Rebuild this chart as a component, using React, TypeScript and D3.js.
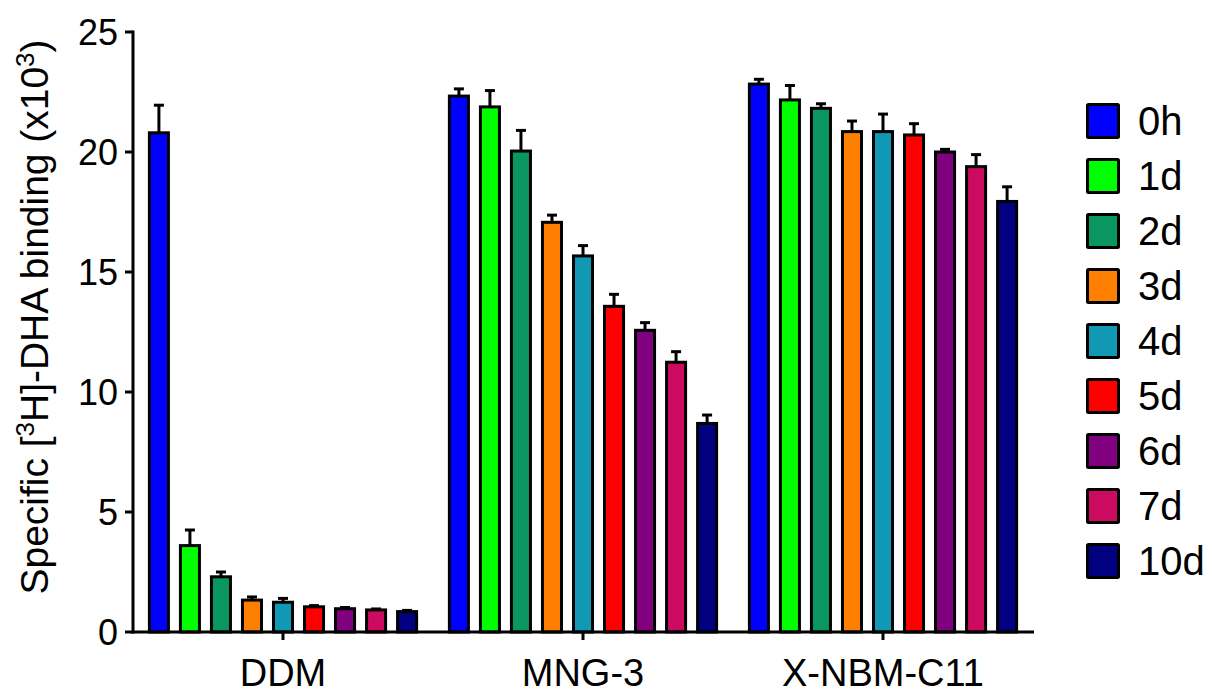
import React from 'react';
import * as d3 from 'd3';

const detergents = ['DDM', 'MNG-3', 'X-NBM-C11'];
const timepoints = ['0h', '1d', '2d', '3d', '4d', '5d', '6d', '7d', '10d'];
const colors = ['#0000FF', '#00FF00', '#0A9660', '#FF8000', '#1098B4', '#FF0000', '#800080', '#CC0A60', '#000080'];

// mean binding (x10^3), one array per detergent, in timepoint order
const ddmMean = [20.8, 3.6, 2.3, 1.33, 1.24, 1.05, 0.97, 0.92, 0.85];
const ddmErr = [1.15, 0.65, 0.2, 0.13, 0.16, 0.05, 0.05, 0.04, 0.05];
const mngMean = [22.33, 21.88, 20.04, 17.07, 15.67, 13.57, 12.57, 11.24, 8.69];
const mngErr = [0.3, 0.68, 0.86, 0.3, 0.43, 0.5, 0.32, 0.44, 0.35];
const nbmMean = [22.83, 22.17, 21.82, 20.85, 20.85, 20.71, 20.0, 19.39, 17.94];
const nbmErr = [0.2, 0.6, 0.19, 0.44, 0.73, 0.47, 0.11, 0.5, 0.61];

const yTicks = [0, 5, 10, 15, 20, 25];

const means = [ddmMean, mngMean, nbmMean];
const errs = [ddmErr, mngErr, nbmErr];

const W = 1213;
const H = 694;
const left = 133;
const right = 1033;
const top = 32;
const bottom = 632;
const font = "'Liberation Sans', Arial, Helvetica, sans-serif";

const App = () => {
  const x0 = d3.scaleBand().domain(detergents).range([left, right]).padding(0);
  const x1 = d3
    .scaleBand()
    .domain(timepoints)
    .range([0, x0.bandwidth()])
    .paddingInner(0.29)
    .paddingOuter(0.48);
  const y = d3.scaleLinear().domain([0, 25]).range([bottom, top]);

  const bw = x1.bandwidth();
  const sw = 3;
  const capW = 10;

  return (
    <svg width={W} height={H} style={{ position: 'absolute', left: 0, top: 0, background: '#fff' }}>
      {/* bars + error bars */}
      {detergents.map((det, g) => (
        <g key={det} transform={`translate(${x0(det)},0)`}>
          {timepoints.map((t, i) => {
            const v = means[g][i];
            const e = errs[g][i];
            const bx = x1(t)!;
            const cx = bx + bw / 2;
            return (
              <g key={t}>
                <line x1={cx} x2={cx} y1={y(v)} y2={y(v + e)} stroke="#000" strokeWidth={3} />
                <line x1={cx - capW / 2} x2={cx + capW / 2} y1={y(v + e)} y2={y(v + e)} stroke="#000" strokeWidth={3} />
                <rect
                  x={bx + sw / 2}
                  y={y(v)}
                  width={bw - sw}
                  height={bottom - y(v)}
                  fill={colors[i]}
                  stroke="#000"
                  strokeWidth={sw}
                />
              </g>
            );
          })}
        </g>
      ))}

      {/* y axis */}
      <line x1={left} x2={left} y1={bottom + 1.5} y2={top - 1.5} stroke="#000" strokeWidth={3} />
      {yTicks.map((t) => (
        <g key={t}>
          <line x1={left - 8} x2={left} y1={y(t)} y2={y(t)} stroke="#000" strokeWidth={3} />
          <text x={left - 15} y={y(t)} dy="0.36em" textAnchor="end" fontSize={36} fontFamily={font}>
            {t}
          </text>
        </g>
      ))}

      {/* x axis */}
      <line x1={left - 1.5} x2={right + 1} y1={bottom} y2={bottom} stroke="#000" strokeWidth={3} />
      {detergents.map((det) => {
        const cx = x0(det)! + x0.bandwidth() / 2;
        return (
          <g key={det}>
            <line x1={cx} x2={cx} y1={bottom} y2={bottom + 8} stroke="#000" strokeWidth={3} />
            <text x={cx} y={686} textAnchor="middle" fontSize={38} fontFamily={font}>
              {det}
            </text>
          </g>
        );
      })}

      {/* y axis title */}
      <text
        transform={`translate(48,317) rotate(-90)`}
        textAnchor="middle"
        fontSize={39}
        fontFamily={font}
        textLength={555}
        lengthAdjust="spacingAndGlyphs"
      >
        Specific [<tspan fontSize={26} dy={-14}>3</tspan>
        <tspan dy={14}>H]-DHA binding (x10</tspan>
        <tspan fontSize={26} dy={-14}>3</tspan>
        <tspan dy={14}>)</tspan>
      </text>

      {/* legend */}
      {timepoints.map((t, i) => (
        <g key={t} transform={`translate(1086,${103 + i * 55})`}>
          <rect x={1.5} y={1.5} width={31} height={33} fill={colors[i]} stroke="#000" strokeWidth={3} rx={1} />
          <text x={52} y={18} dy="0.36em" fontSize={40} fontFamily={font}>
            {t}
          </text>
        </g>
      ))}
    </svg>
  );
};

export default App;
